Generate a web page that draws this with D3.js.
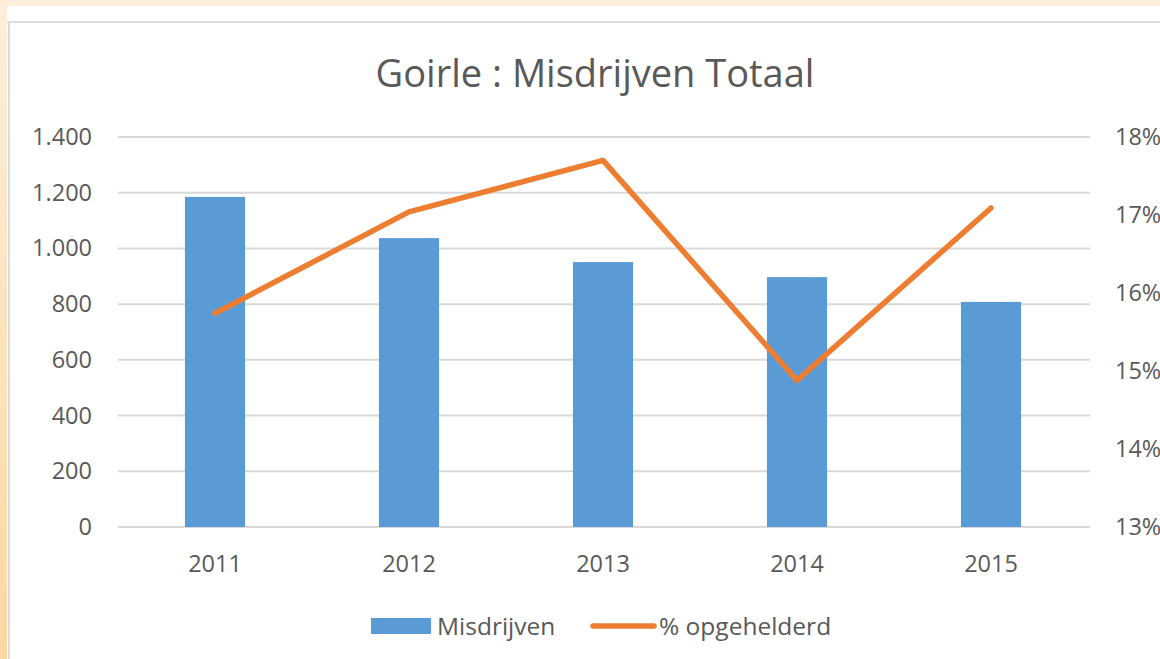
<!DOCTYPE html>
<html>
  <head>
    <meta charset="utf-8">
    <title>Goirle : Misdrijven Totaal</title>
    <script src="https://cdn.jsdelivr.net/npm/d3@7"></script>
    <style>
      body { margin: 0; background: #fdefdc; }
      svg { display: block; font-family: "Open Sans", sans-serif; }
      .axis text { fill: #595959; font-size: 23.5px; font-family: "Open Sans", sans-serif; }
      .axis path, .axis line { display: none; }
    </style>
  </head>

  <body>
    <svg id="chart" width="1160" height="659"></svg>

    <script>
      // data
      years = ["2011", "2012", "2013", "2014", "2015"];
      misdrijven = [1185, 1037, 951, 897, 808];
      opgehelderd = [15.74, 17.04, 17.7, 14.88, 17.09];
      leftTicks = [0, 200, 400, 600, 800, 1000, 1200, 1400];
      rightTicks = [13, 14, 15, 16, 17, 18];

      width = 1160;
      height = 659;
      margin = { top: 137, right: 70, bottom: 132, left: 118 };

      nl = d3.formatLocale({ decimal: ",", thousands: ".", grouping: [3], currency: ["", ""] });

      chart = d3.select("#chart");

      // frame
      defs = chart.append("defs");
      grad = defs.append("linearGradient").attr("id", "side")
        .attr("x1", 0).attr("y1", 0).attr("x2", 0).attr("y2", 1);
      grad.append("stop").attr("offset", "0%").attr("stop-color", "#fdeedb");
      grad.append("stop").attr("offset", "100%").attr("stop-color", "#fcd8a0");

      chart.append("rect").attr("width", width).attr("height", height).attr("fill", "#fdefdc");
      chart.append("rect").attr("width", 7).attr("height", height).attr("fill", "url(#side)");
      chart.append("rect").attr("x", 7).attr("y", 6).attr("width", width - 7).attr("height", height - 6).attr("fill", "#ffffff");
      chart.append("line").attr("x1", 7).attr("x2", width).attr("y1", 22).attr("y2", 22)
        .attr("stroke", "#dcdcdc").attr("stroke-width", 2);
      chart.append("line").attr("x1", 9).attr("x2", 9).attr("y1", 22).attr("y2", height)
        .attr("stroke", "#dcdcdc").attr("stroke-width", 2);

      // scales
      x = d3.scaleBand()
        .domain(years)
        .range([margin.left, width - margin.right - 2])
        .paddingInner(0.69)
        .paddingOuter(0.345);
      y = d3.scaleLinear()
        .domain([0, 1400])
        .range([height - margin.bottom, margin.top]);
      y2 = d3.scaleLinear()
        .domain([13, 18])
        .range([height - margin.bottom, margin.top]);

      // gridlines
      chart.append("g")
        .selectAll("line")
          .data(leftTicks)
        .enter().append("line")
          .attr("x1", margin.left)
          .attr("x2", width - margin.right)
          .attr("y1", function(d) { return y(d); })
          .attr("y2", function(d) { return y(d); })
          .attr("stroke", "#d9d9d9")
          .attr("stroke-width", 2);

      // axes
      chart.append("g")
        .attr("class", "axis")
        .attr("transform", "translate(" + (margin.left - 26) + ", 0)")
        .call(d3.axisLeft(y).tickValues(leftTicks).tickSize(0).tickPadding(0).tickFormat(nl.format(",")));

      chart.append("g")
        .attr("class", "axis")
        .attr("transform", "translate(" + (width - margin.right + 25) + ", 0)")
        .call(d3.axisRight(y2).tickValues(rightTicks).tickSize(0).tickPadding(0).tickFormat(function(d) { return d + "%"; }));

      chart.append("g")
        .attr("class", "axis")
        .attr("transform", "translate(0, " + (height - margin.bottom + 28) + ")")
        .call(d3.axisBottom(x).tickSize(0).tickPadding(0));

      // bars
      chart.append("g")
        .selectAll("rect")
          .data(misdrijven)
        .enter().append("rect")
          .attr("x", function(d, i) { return x(years[i]); })
          .attr("width", x.bandwidth())
          .attr("y", function(d) { return y(d); })
          .attr("height", function(d) { return y(0) - y(d); })
          .attr("fill", "#5b9bd5");

      // line
      line = d3.line()
        .x(function(d, i) { return x(years[i]) + x.bandwidth() / 2; })
        .y(function(d) { return y2(d); });

      chart.append("path")
        .datum(opgehelderd)
        .attr("d", line)
        .attr("fill", "none")
        .attr("stroke", "#ed7d31")
        .attr("stroke-width", 5.5)
        .attr("stroke-linejoin", "round")
        .attr("stroke-linecap", "round");

      // title
      chart.append("text")
        .attr("x", 595)
        .attr("y", 87)
        .attr("text-anchor", "middle")
        .attr("fill", "#595959")
        .style("font-size", "38px")
        .text("Goirle : Misdrijven Totaal");

      // legend
      legend = chart.append("g").attr("transform", "translate(0, 626)");
      legend.append("rect")
        .attr("x", 371).attr("y", -8).attr("width", 60).attr("height", 16)
        .attr("fill", "#5b9bd5");
      legend.append("text")
        .attr("x", 437).attr("y", 9)
        .attr("fill", "#595959").style("font-size", "24.5px")
        .text("Misdrijven");
      legend.append("line")
        .attr("x1", 593).attr("x2", 654).attr("y1", 0).attr("y2", 0)
        .attr("stroke", "#ed7d31").attr("stroke-width", 5.5).attr("stroke-linecap", "round");
      legend.append("text")
        .attr("x", 659).attr("y", 9)
        .attr("fill", "#595959").style("font-size", "24.5px")
        .text("% opgehelderd");
    </script>
  </body>
</html>
